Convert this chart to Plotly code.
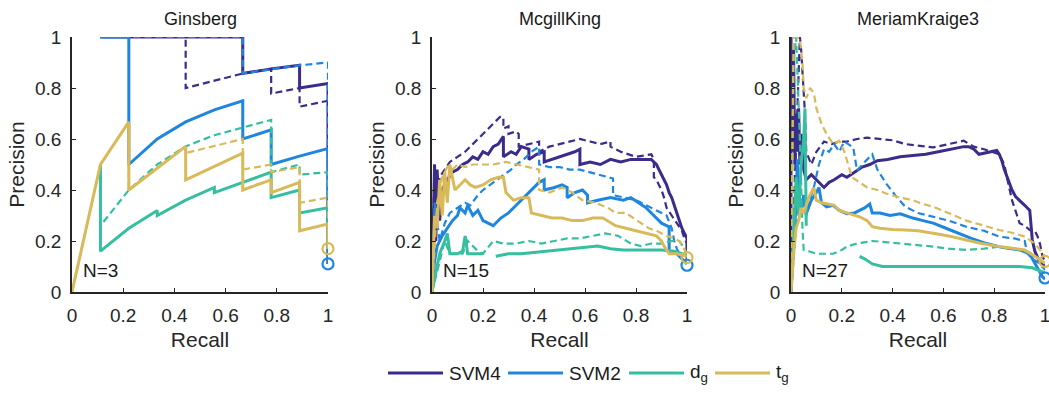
import plotly.graph_objects as go

# ---------------- data ----------------
panel_titles = ["Ginsberg", "McgillKing", "MeriamKraige3"]
panel_n = ["N=3", "N=15", "N=27"]
series_names = ["SVM4", "SVM2", "d<sub>g</sub>", "t<sub>g</sub>"]
series_colors = ["#3b2c8c", "#1e86df", "#35bfa0", "#d8ba5a"]
x_ticks = [0, 0.2, 0.4, 0.6, 0.8, 1]
x_tick_labels = ["0", "0.2", "0.4", "0.6", "0.8", "1"]
y_ticks = [0, 0.2, 0.4, 0.6, 0.8, 1]
y_tick_labels = ["0", "0.2", "0.4", "0.6", "0.8", "1"]

# --- Ginsberg ---
gin_svm4_r = [0.111, 0.667, 0.667, 0.778, 0.889, 0.889, 1.0, 1.0]
gin_svm4_p = [1.0, 1.0, 0.857, 0.875, 0.889, 0.80, 0.818, 0.11]
gin_svm4d_r = [0.111, 0.444, 0.444, 0.667, 0.778, 0.778, 0.889, 0.889, 1.0, 1.0]
gin_svm4d_p = [1.0, 1.0, 0.80, 0.857, 0.875, 0.778, 0.80, 0.727, 0.75, 0.11]
gin_svm2_r = [0.111, 0.222, 0.222, 0.333, 0.444, 0.556, 0.667, 0.667, 0.778, 0.778, 0.889, 1.0, 1.0]
gin_svm2_p = [1.0, 1.0, 0.50, 0.60, 0.667, 0.714, 0.75, 0.60, 0.636, 0.50, 0.533, 0.5625, 0.11]
gin_svm2d_r = [0.111, 0.667, 0.667, 0.889, 1.0, 1.0]
gin_svm2d_p = [1.0, 1.0, 0.857, 0.889, 0.90, 0.11]
gin_dg_r = [0.111, 0.111, 0.222, 0.333, 0.333, 0.444, 0.556, 0.556, 0.667, 0.778, 0.778, 0.889, 0.889, 1.0, 1.0]
gin_dg_p = [0.50, 0.16, 0.25, 0.32, 0.30, 0.36, 0.41, 0.39, 0.43, 0.47, 0.37, 0.40, 0.31, 0.33, 0.17]
gin_dgd_r = [0.111, 0.111, 0.222, 0.333, 0.444, 0.556, 0.667, 0.778, 0.778, 0.889, 0.889, 1.0, 1.0]
gin_dgd_p = [0.50, 0.26, 0.40, 0.50, 0.571, 0.615, 0.645, 0.675, 0.47, 0.50, 0.46, 0.47, 0.17]
gin_tg_r = [0.0, 0.111, 0.222, 0.222, 0.444, 0.444, 0.667, 0.667, 0.778, 0.778, 0.889, 0.889, 1.0, 1.0]
gin_tg_p = [0.0, 0.50, 0.667, 0.40, 0.571, 0.44, 0.545, 0.40, 0.44, 0.39, 0.43, 0.24, 0.267, 0.17]
gin_tgd_r = [0.0, 0.111, 0.222, 0.222, 0.444, 0.444, 0.667, 0.667, 0.778, 0.778, 0.889, 0.889, 1.0, 1.0]
gin_tgd_p = [0.0, 0.50, 0.667, 0.40, 0.571, 0.545, 0.60, 0.48, 0.50, 0.47, 0.49, 0.35, 0.37, 0.17]
gin_circle_r = [1.0, 1.0]
gin_circle_p = [0.11, 0.17]

# --- McgillKing ---
mk_svm4_r = [0, 0.01, 0.015, 0.02, 0.03, 0.04, 0.06, 0.08, 0.10, 0.12, 0.14, 0.16, 0.18, 0.20, 0.22, 0.24, 0.26, 0.28, 0.28, 0.31, 0.33, 0.35, 0.38, 0.38, 0.41, 0.44, 0.44, 0.47, 0.50, 0.53, 0.56, 0.58, 0.58, 0.62, 0.66, 0.70, 0.74, 0.78, 0.82, 0.86, 0.88, 0.89, 0.90, 0.91, 0.92, 0.93, 0.94, 0.95, 0.96, 0.97, 0.98, 0.99, 1.0, 1.0]
mk_svm4_p = [0, 0.50, 0.20, 0.48, 0.28, 0.40, 0.44, 0.47, 0.48, 0.50, 0.51, 0.53, 0.52, 0.55, 0.54, 0.57, 0.58, 0.61, 0.53, 0.55, 0.54, 0.57, 0.56, 0.52, 0.54, 0.55, 0.51, 0.52, 0.53, 0.54, 0.55, 0.56, 0.50, 0.51, 0.50, 0.52, 0.51, 0.52, 0.52, 0.52, 0.50, 0.48, 0.46, 0.44, 0.42, 0.39, 0.37, 0.34, 0.31, 0.28, 0.25, 0.23, 0.21, 0.13]
mk_svm4d_r = [0, 0.01, 0.02, 0.03, 0.05, 0.07, 0.10, 0.13, 0.16, 0.19, 0.22, 0.25, 0.27, 0.28, 0.28, 0.30, 0.30, 0.33, 0.34, 0.34, 0.38, 0.42, 0.42, 0.46, 0.50, 0.54, 0.58, 0.62, 0.66, 0.70, 0.70, 0.74, 0.80, 0.86, 0.87, 0.87, 0.88, 0.89, 0.90, 0.91, 0.92, 0.94, 0.96, 0.98, 0.99, 1.0, 1.0]
mk_svm4d_p = [0, 0.50, 0.30, 0.45, 0.48, 0.51, 0.53, 0.55, 0.58, 0.61, 0.64, 0.67, 0.69, 0.68, 0.64, 0.65, 0.62, 0.63, 0.62, 0.57, 0.58, 0.59, 0.55, 0.57, 0.58, 0.59, 0.60, 0.59, 0.58, 0.59, 0.57, 0.55, 0.53, 0.54, 0.52, 0.45, 0.44, 0.42, 0.40, 0.37, 0.33, 0.30, 0.27, 0.24, 0.21, 0.19, 0.13]
mk_svm2_r = [0, 0.01, 0.02, 0.04, 0.06, 0.08, 0.10, 0.11, 0.13, 0.14, 0.16, 0.18, 0.20, 0.22, 0.24, 0.27, 0.30, 0.33, 0.36, 0.39, 0.42, 0.44, 0.44, 0.48, 0.51, 0.53, 0.53, 0.56, 0.59, 0.61, 0.61, 0.65, 0.70, 0.75, 0.78, 0.81, 0.84, 0.86, 0.88, 0.90, 0.92, 0.93, 0.93, 0.96, 1.0]
mk_svm2_p = [0, 0.12, 0.18, 0.22, 0.25, 0.28, 0.30, 0.33, 0.31, 0.34, 0.30, 0.32, 0.28, 0.27, 0.26, 0.29, 0.31, 0.34, 0.37, 0.40, 0.43, 0.44, 0.40, 0.41, 0.42, 0.41, 0.37, 0.39, 0.40, 0.38, 0.35, 0.36, 0.37, 0.36, 0.37, 0.35, 0.33, 0.31, 0.29, 0.27, 0.26, 0.255, 0.16, 0.15, 0.11]
mk_svm2d_r = [0, 0.01, 0.03, 0.05, 0.07, 0.10, 0.13, 0.15, 0.18, 0.20, 0.24, 0.28, 0.31, 0.33, 0.36, 0.39, 0.42, 0.42, 0.46, 0.50, 0.54, 0.58, 0.62, 0.66, 0.70, 0.71, 0.71, 0.76, 0.80, 0.84, 0.86, 0.88, 0.90, 0.92, 0.94, 0.95, 0.96, 0.98, 1.0]
mk_svm2d_p = [0, 0.35, 0.20, 0.27, 0.31, 0.33, 0.35, 0.34, 0.38, 0.40, 0.43, 0.46, 0.48, 0.50, 0.52, 0.55, 0.57, 0.50, 0.49, 0.49, 0.48, 0.48, 0.47, 0.46, 0.45, 0.445, 0.38, 0.37, 0.36, 0.34, 0.33, 0.32, 0.31, 0.30, 0.25, 0.20, 0.17, 0.13, 0.11]
mk_dg_r = [0, 0.02, 0.03, 0.05, 0.06, 0.07, 0.08, 0.10, 0.12, 0.13, 0.14, 0.17, 0.20, None, 0.25, 0.30, 0.35, 0.40, 0.45, 0.50, 0.55, 0.60, 0.65, 0.70, 0.75, 0.80, 0.85, 0.90, 0.95, 0.98, 1.0]
mk_dg_p = [0, 0.10, 0.15, 0.20, 0.23, 0.15, 0.15, 0.15, 0.16, 0.22, 0.15, 0.15, 0.15, None, 0.14, 0.15, 0.15, 0.155, 0.16, 0.165, 0.17, 0.175, 0.18, 0.17, 0.165, 0.165, 0.165, 0.165, 0.16, 0.15, 0.14]
mk_dgd_r = [0, 0.05, 0.07, 0.12, 0.14, 0.16, 0.18, 0.20, 0.24, 0.28, 0.33, 0.38, 0.43, 0.48, 0.53, 0.58, 0.63, 0.68, 0.73, 0.78, 0.82, 0.86, 0.90, 0.94, 0.97, 0.99, 1.0]
mk_dgd_p = [0, 0.20, 0.15, 0.15, 0.20, 0.18, 0.16, 0.15, 0.20, 0.19, 0.19, 0.20, 0.19, 0.20, 0.21, 0.21, 0.22, 0.23, 0.22, 0.19, 0.18, 0.19, 0.19, 0.20, 0.20, 0.17, 0.14]
mk_tg_r = [0, 0.01, 0.02, 0.03, 0.04, 0.05, 0.06, 0.07, 0.09, 0.11, 0.13, 0.15, 0.17, 0.20, 0.23, 0.26, 0.28, 0.29, 0.32, 0.35, 0.38, 0.39, 0.43, 0.47, 0.51, 0.55, 0.59, 0.63, 0.67, 0.70, 0.72, 0.76, 0.80, 0.84, 0.88, 0.90, 0.91, 0.93, 0.96, 1.0]
mk_tg_p = [0, 0.30, 0.25, 0.44, 0.30, 0.47, 0.35, 0.50, 0.40, 0.42, 0.44, 0.42, 0.41, 0.42, 0.44, 0.45, 0.45, 0.39, 0.36, 0.37, 0.37, 0.31, 0.30, 0.29, 0.29, 0.28, 0.28, 0.29, 0.29, 0.27, 0.26, 0.25, 0.24, 0.23, 0.22, 0.20, 0.18, 0.15, 0.15, 0.14]
mk_tgd_r = [0, 0.02, 0.04, 0.06, 0.08, 0.10, 0.13, 0.16, 0.20, 0.24, 0.29, 0.33, 0.38, 0.42, 0.42, 0.46, 0.51, 0.55, 0.59, 0.64, 0.69, 0.72, 0.76, 0.79, 0.82, 0.85, 0.88, 0.92, 0.95, 0.97, 1.0]
mk_tgd_p = [0, 0.35, 0.45, 0.49, 0.48, 0.50, 0.49, 0.50, 0.50, 0.50, 0.51, 0.50, 0.49, 0.48, 0.40, 0.39, 0.41, 0.39, 0.36, 0.35, 0.33, 0.31, 0.31, 0.29, 0.27, 0.25, 0.24, 0.22, 0.21, 0.20, 0.15]
mk_circle_r = [1.0, 1.0]
mk_circle_p = [0.105, 0.135]

# --- MeriamKraige3 ---
mr_svm4_r = [0, 0.0, 0.005, 0.01, 0.015, 0.02, 0.025, 0.03, 0.035, 0.04, 0.05, 0.06, 0.08, 0.10, 0.13, 0.15, 0.17, 0.20, 0.22, 0.25, 0.28, 0.31, 0.34, 0.38, 0.43, 0.48, 0.53, 0.58, 0.63, 0.68, 0.70, 0.72, 0.74, 0.78, 0.81, 0.82, 0.83, 0.84, 0.86, 0.87, 0.885, 0.90, 0.92, 0.94, 0.945, 0.95, 0.96, 0.975, 0.99, 1.0]
mr_svm4_p = [0, 1.0, 0.55, 0.95, 0.50, 0.70, 0.55, 0.72, 0.50, 0.62, 0.48, 0.44, 0.46, 0.44, 0.41, 0.43, 0.44, 0.46, 0.45, 0.47, 0.49, 0.50, 0.515, 0.52, 0.53, 0.535, 0.54, 0.55, 0.56, 0.57, 0.57, 0.56, 0.54, 0.55, 0.555, 0.54, 0.515, 0.48, 0.425, 0.40, 0.373, 0.36, 0.34, 0.32, 0.25, 0.204, 0.16, 0.126, 0.11, 0.10]
mr_svm4d_r = [0, 0.01, 0.02, 0.03, 0.035, 0.04, 0.05, 0.055, 0.06, 0.08, 0.10, 0.13, 0.16, 0.19, 0.22, 0.26, 0.30, 0.35, 0.40, 0.45, 0.50, 0.56, 0.62, 0.68, 0.72, 0.76, 0.82, 0.84, 0.85, 0.86, 0.87, 0.89, 0.90, 0.92, 0.94, 0.96, 0.97, 0.98, 0.99, 1.0]
mr_svm4d_p = [0, 0.30, 0.60, 0.90, 1.0, 0.95, 0.80, 0.70, 0.55, 0.50, 0.55, 0.59, 0.58, 0.59, 0.59, 0.60, 0.605, 0.60, 0.595, 0.58, 0.575, 0.567, 0.58, 0.593, 0.57, 0.56, 0.54, 0.50, 0.45, 0.40, 0.36, 0.30, 0.27, 0.26, 0.243, 0.24, 0.22, 0.19, 0.14, 0.12]
mr_svm2_r = [0, 0.01, 0.02, 0.025, 0.03, 0.04, 0.05, 0.06, 0.08, 0.10, 0.11, 0.12, 0.14, 0.166, 0.19, 0.22, 0.25, 0.27, 0.29, 0.31, 0.32, 0.35, 0.39, 0.43, 0.48, 0.52, 0.56, 0.61, 0.66, 0.71, 0.77, 0.83, 0.90, 0.94, 0.96, 0.98, 0.99, 1.0]
mr_svm2_p = [0, 0.20, 0.35, 0.52, 0.40, 0.32, 0.38, 0.307, 0.36, 0.39, 0.41, 0.35, 0.334, 0.34, 0.32, 0.307, 0.31, 0.32, 0.33, 0.345, 0.31, 0.31, 0.30, 0.307, 0.29, 0.28, 0.27, 0.25, 0.23, 0.21, 0.19, 0.175, 0.165, 0.15, 0.113, 0.08, 0.06, 0.05]
mr_svm2d_r = [0, 0.02, 0.04, 0.06, 0.08, 0.09, 0.11, 0.13, 0.15, 0.17, 0.19, 0.21, 0.245, 0.26, 0.29, 0.32, 0.34, 0.375, 0.41, 0.45, 0.50, 0.56, 0.62, 0.69, 0.76, 0.82, 0.88, 0.92, 0.93, 0.95, 0.976, 1.0]
mr_svm2d_p = [0, 0.25, 0.35, 0.30, 0.38, 0.41, 0.50, 0.56, 0.55, 0.58, 0.55, 0.59, 0.567, 0.476, 0.51, 0.54, 0.48, 0.425, 0.38, 0.334, 0.31, 0.295, 0.28, 0.256, 0.24, 0.217, 0.21, 0.20, 0.152, 0.13, 0.113, 0.087]
mr_dg_r = [0, 0.01, 0.02, 0.03, 0.04, 0.05, 0.055, 0.06, None, 0.27, 0.29, 0.32, 0.36, 0.43, 0.50, 0.56, 0.62, 0.69, 0.76, 0.82, 0.90, 0.95, 1.0]
mr_dg_p = [0, 0.20, 0.45, 0.30, 0.50, 0.60, 0.72, 0.26, None, 0.14, 0.13, 0.11, 0.10, 0.10, 0.10, 0.10, 0.10, 0.10, 0.10, 0.10, 0.10, 0.095, 0.075]
mr_dgd_r = [0, 0.005, 0.01, 0.02, 0.03, 0.035, 0.045, 0.05, 0.07, 0.10, 0.13, 0.166, 0.20, 0.22, 0.26, 0.32, 0.38, 0.43, 0.50, 0.56, 0.62, 0.69, 0.76, 0.82, 0.88, 0.94, 1.0]
mr_dgd_p = [0, 0.50, 0.90, 1.0, 0.75, 0.60, 0.25, 0.165, 0.16, 0.15, 0.15, 0.15, 0.165, 0.178, 0.19, 0.20, 0.195, 0.19, 0.185, 0.178, 0.17, 0.165, 0.17, 0.178, 0.17, 0.155, 0.113]
mr_tg_r = [0, 0.01, 0.02, 0.03, 0.04, 0.05, 0.07, 0.09, 0.10, 0.12, 0.14, 0.17, 0.19, 0.22, 0.25, 0.27, 0.30, 0.32, 0.35, 0.40, 0.45, 0.50, 0.56, 0.62, 0.69, 0.75, 0.82, 0.88, 0.92, 0.96, 1.0]
mr_tg_p = [0, 0.15, 0.25, 0.28, 0.33, 0.31, 0.37, 0.41, 0.36, 0.35, 0.346, 0.34, 0.32, 0.31, 0.30, 0.295, 0.28, 0.256, 0.25, 0.245, 0.243, 0.24, 0.23, 0.22, 0.204, 0.19, 0.178, 0.17, 0.165, 0.14, 0.113]
mr_tgd_r = [0, 0.005, 0.01, 0.02, 0.035, 0.045, 0.05, 0.06, 0.075, 0.09, 0.10, 0.12, 0.14, 0.166, 0.19, 0.21, 0.22, 0.24, 0.27, 0.30, 0.34, 0.375, 0.43, 0.48, 0.52, 0.56, 0.62, 0.69, 0.76, 0.82, 0.88, 0.92, 0.96, 1.0]
mr_tgd_p = [0, 0.50, 1.0, 1.0, 0.99, 0.90, 0.80, 0.76, 0.80, 0.78, 0.72, 0.66, 0.62, 0.58, 0.593, 0.55, 0.515, 0.45, 0.43, 0.41, 0.40, 0.386, 0.37, 0.36, 0.345, 0.334, 0.31, 0.28, 0.26, 0.243, 0.23, 0.217, 0.19, 0.14]
mr_circle_r = [1.0, 1.0]
mr_circle_p = [0.055, 0.12]
circle_colors = ["#1e86df", "#d8ba5a"]

panels = [
    [(gin_svm4_r, gin_svm4_p, gin_svm4d_r, gin_svm4d_p), (gin_svm2_r, gin_svm2_p, gin_svm2d_r, gin_svm2d_p),
     (gin_dg_r, gin_dg_p, gin_dgd_r, gin_dgd_p), (gin_tg_r, gin_tg_p, gin_tgd_r, gin_tgd_p)],
    [(mk_svm4_r, mk_svm4_p, mk_svm4d_r, mk_svm4d_p), (mk_svm2_r, mk_svm2_p, mk_svm2d_r, mk_svm2d_p),
     (mk_dg_r, mk_dg_p, mk_dgd_r, mk_dgd_p), (mk_tg_r, mk_tg_p, mk_tgd_r, mk_tgd_p)],
    [(mr_svm4_r, mr_svm4_p, mr_svm4d_r, mr_svm4d_p), (mr_svm2_r, mr_svm2_p, mr_svm2d_r, mr_svm2d_p),
     (mr_dg_r, mr_dg_p, mr_dgd_r, mr_dgd_p), (mr_tg_r, mr_tg_p, mr_tgd_r, mr_tgd_p)],
]
circles = [(gin_circle_r, gin_circle_p), (mk_circle_r, mk_circle_p), (mr_circle_r, mr_circle_p)]

# ---------------- figure ----------------
W, H = 1049, 393
x_domains = [(72 / W, 328 / W), (432 / W, 687 / W), (791 / W, 1045 / W)]
y_domain = (1 - 292 / H, 1 - 37 / H)
font_family = "Liberation Sans, Arial, Helvetica, sans-serif"
axis_color = "#262626"
text_color = "#1a1a1a"

fig = go.Figure()
for i, panel in enumerate(panels):
    xa = "x" if i == 0 else f"x{i+1}"
    ya = "y" if i == 0 else f"y{i+1}"
    for j, (rs, ps, rd, pd) in enumerate(panel):
        fig.add_trace(go.Scatter(x=rs, y=ps, mode="lines", xaxis=xa, yaxis=ya,
                                 line=dict(color=series_colors[j], width=3),
                                 name=series_names[j], showlegend=False, connectgaps=False))
        fig.add_trace(go.Scatter(x=rd, y=pd, mode="lines", xaxis=xa, yaxis=ya,
                                 line=dict(color=series_colors[j], width=2.2, dash="7px,4px"),
                                 name=series_names[j] + " (dashed)", showlegend=False,
                                 connectgaps=False))
    cr, cp = circles[i]
    fig.add_trace(go.Scatter(x=cr, y=cp, mode="markers", xaxis=xa, yaxis=ya, cliponaxis=False,
                             marker=dict(symbol="circle-open", size=11, color=circle_colors,
                                         line=dict(width=2.2, color=circle_colors)),
                             showlegend=False))

# legend (custom, horizontal, at the bottom)
legend_line_x0 = [388, 508, 629, 715]
legend_line_len = 55
legend_y = 373
shapes = []
annotations = []
for j in range(4):
    x0 = legend_line_x0[j]
    shapes.append(dict(type="line", xref="paper", yref="paper",
                       x0=x0 / W, x1=(x0 + legend_line_len) / W,
                       y0=1 - legend_y / H, y1=1 - legend_y / H,
                       line=dict(color=series_colors[j], width=3)))
    annotations.append(dict(text=series_names[j], xref="paper", yref="paper",
                            x=(x0 + legend_line_len + 4) / W, y=1 - legend_y / H,
                            xanchor="left", yanchor="middle", showarrow=False,
                            font=dict(size=19, color=text_color)))

layout = dict(
    width=W, height=H,
    margin=dict(l=0, r=0, t=0, b=0, autoexpand=False),
    paper_bgcolor="white", plot_bgcolor="white",
    font=dict(family=font_family, size=19, color=axis_color),
    showlegend=False,
    shapes=shapes,
    annotations=annotations,
)
for i in range(3):
    xk = "xaxis" if i == 0 else f"xaxis{i+1}"
    yk = "yaxis" if i == 0 else f"yaxis{i+1}"
    ya = "y" if i == 0 else f"y{i+1}"
    xa = "x" if i == 0 else f"x{i+1}"
    layout[xk] = dict(domain=list(x_domains[i]), anchor=ya, range=[0, 1], showgrid=False, zeroline=False,
                      automargin=False, ticklabeloverflow="allow",
                      showline=True, linecolor=axis_color, linewidth=1.6, ticks="inside", ticklen=4,
                      tickwidth=1, tickcolor=axis_color, tickvals=x_ticks, ticktext=x_tick_labels,
                      tickfont=dict(size=19, color=axis_color), ticklabelstandoff=5,
                      title=dict(text="Recall", font=dict(size=21, color=axis_color), standoff=8))
    layout[yk] = dict(domain=list(y_domain), anchor=xa, range=[0, 1], showgrid=False, zeroline=False,
                      automargin=False, ticklabeloverflow="allow",
                      showline=True, linecolor=axis_color, linewidth=1.6, ticks="inside", ticklen=4,
                      tickwidth=1, tickcolor=axis_color, tickvals=y_ticks, ticktext=y_tick_labels,
                      tickfont=dict(size=19, color=axis_color), ticklabelstandoff=5,
                      title=dict(text="Precision", font=dict(size=21, color=axis_color), standoff=5))
    layout["annotations"].append(dict(text=panel_titles[i], xref=f"{xa} domain", yref="paper",
                                      x=0.5, y=1 - 19 / H, xanchor="center", yanchor="middle",
                                      showarrow=False, font=dict(size=18, color=text_color)))
    layout["annotations"].append(dict(text=panel_n[i], xref=f"{xa} domain", yref=f"{ya} domain",
                                      x=0.04, y=0.085, xanchor="left", yanchor="middle",
                                      showarrow=False, bgcolor="white", borderpad=0,
                                      font=dict(size=19, color=text_color)))
fig.update_layout(**layout)
fig.write_html("out.html")
